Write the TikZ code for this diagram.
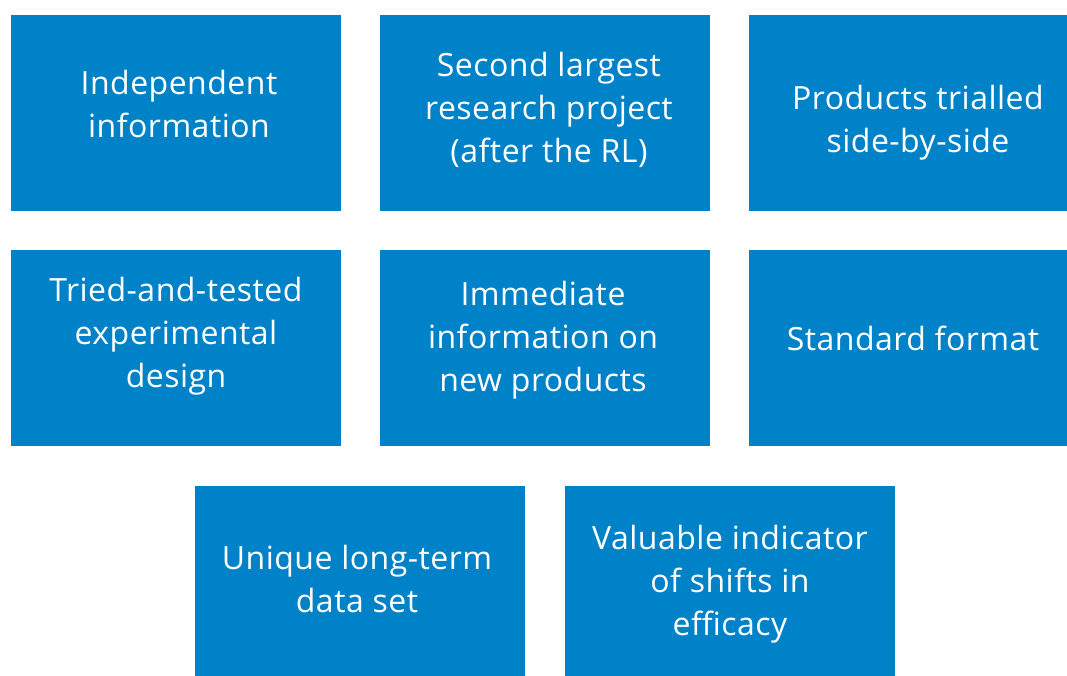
\documentclass[tikz,border=0pt]{standalone}
\usepackage{fontspec}
\setmainfont{Open Sans}[LetterSpace=1.5]
\begin{document}
\begin{tikzpicture}[x=1pt,y=-1pt,
  tile/.style={fill=tileblue,draw=none},
  label/.style={text=white,align=center,font=\fontsize{32}{43}\selectfont,inner sep=0pt}]
\definecolor{tileblue}{HTML}{0082C8}
\useasboundingbox (0,0) rectangle (1067,675);
\clip (0,0) rectangle (1067,675);
% first row
\fill[tile] (11,15) rectangle (341,211);
\fill[tile] (380,15) rectangle (710,211);
\fill[tile] (749,15) rectangle (1079,211);
% second row
\fill[tile] (11,250) rectangle (341,446);
\fill[tile] (380,250) rectangle (710,446);
\fill[tile] (749,250) rectangle (1079,446);
% third row
\fill[tile] (195,486) rectangle (525,682);
\fill[tile] (565,486) rectangle (895,682);
% captions
\node[label] (a) at (179,104) {Independent\\information};
\node[label] (b) at (549,110) {Second largest\\research project\\(after the RL)};
\node[label] (c) at (918,123) {Products trialled\\side-by-side};
\node[label] (d) at (176,336) {Tried-and-tested\\experimental\\design};
\node[label] (e) at (543,340) {Immediate\\information on\\new products};
\node[label] (f) at (913,338) {Standard format};
\node[label] (g) at (357,579) {Unique long-term\\data set};
\node[label] (h) at (730,584) {Valuable indicator\\of shifts in\\efficacy};
\end{tikzpicture}
\end{document}
